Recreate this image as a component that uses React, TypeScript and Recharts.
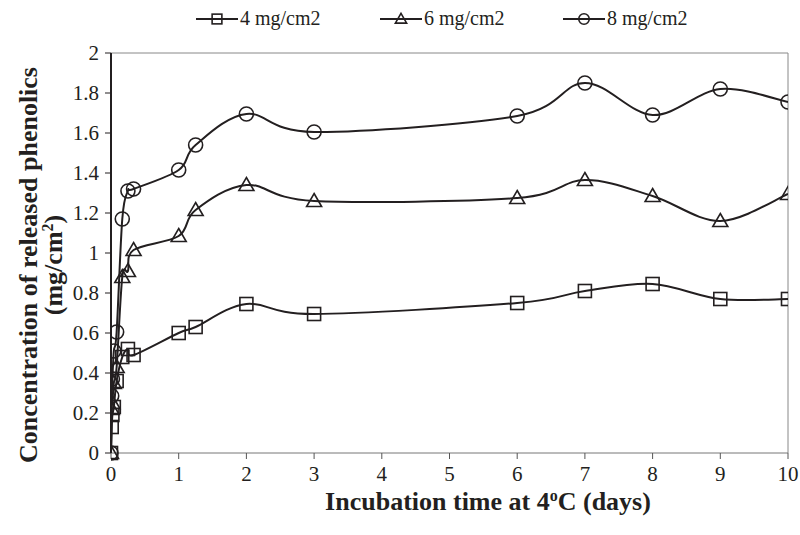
import { LineChart, Line, XAxis, YAxis, ReferenceLine } from 'recharts';

// incubation time (days) and released phenolics (mg/cm2)
const days = [0, 0.0104, 0.0208, 0.0417, 0.0833, 0.1667, 0.25, 0.3333, 1, 1.25, 2, 3, 6, 7, 8, 9, 10];
const conc4 = [0, 0.13, 0.19, 0.23, 0.36, 0.48, 0.52, 0.49, 0.6, 0.63, 0.745, 0.695, 0.75, 0.81, 0.845, 0.77, 0.77];
const conc6 = [0, 0.22, 0.25, 0.35, 0.43, 0.88, 0.91, 1.015, 1.085, 1.215, 1.34, 1.26, 1.275, 1.365, 1.285, 1.16, 1.295];
const conc8 = [0, 0.285, 0.37, 0.51, 0.605, 1.17, 1.31, 1.32, 1.415, 1.54, 1.695, 1.605, 1.685, 1.85, 1.69, 1.82, 1.755];

const xTicks = [0, 1, 2, 3, 4, 5, 6, 7, 8, 9, 10];
const yTicks = [0, 0.2, 0.4, 0.6, 0.8, 1, 1.2, 1.4, 1.6, 1.8, 2];

const seriesNames = ['4 mg/cm2', '6 mg/cm2', '8 mg/cm2'];
const seriesKeys = ['c4', 'c6', 'c8'];

const data = days.map((d, i) => ({ day: d, c4: conc4[i], c6: conc6[i], c8: conc8[i] }));

const FONT = "'Liberation Serif', 'Times New Roman', serif";
const INK = '#231f20';

// Excel-like smoothed line (uniform Catmull-Rom through the points)
function smoothCurve(context: any) {
  let pts: number[][] = [];
  return {
    areaStart() {},
    areaEnd() {},
    lineStart() { pts = []; },
    point(x: number, y: number) { pts.push([+x, +y]); },
    lineEnd() {
      if (!pts.length) return;
      context.moveTo(pts[0][0], pts[0][1]);
      for (let i = 0; i < pts.length - 1; i++) {
        const p0 = pts[i - 1] || pts[i];
        const p1 = pts[i];
        const p2 = pts[i + 1];
        const p3 = pts[i + 2] || p2;
        context.bezierCurveTo(
          p1[0] + (p2[0] - p0[0]) / 6, p1[1] + (p2[1] - p0[1]) / 6,
          p2[0] - (p3[0] - p1[0]) / 6, p2[1] - (p3[1] - p1[1]) / 6,
          p2[0], p2[1]
        );
      }
    },
  };
}

function Marker({ kind, cx, cy, s = 1 }: { kind: number; cx: number; cy: number; s?: number }) {
  if (kind === 0) return <rect x={cx - 6.5 * s} y={cy - 6.5 * s} width={13 * s} height={13 * s} fill="none" stroke={INK} strokeWidth={1.6} />;
  if (kind === 1) return <polygon points={`${cx},${cy - 7.5 * s} ${cx + 7.5 * s},${cy + 5.5 * s} ${cx - 7.5 * s},${cy + 5.5 * s}`} fill="none" stroke={INK} strokeWidth={1.6} />;
  return <circle cx={cx} cy={cy} r={7 * s} fill="none" stroke={INK} strokeWidth={1.6} />;
}

const makeDot = (kind: number) => (props: any) => {
  const { cx, cy, index } = props;
  if (cx == null || cy == null) return <g key={index} />;
  return <Marker key={index} kind={kind} cx={cx} cy={cy} />;
};

function LegendRow() {
  const lefts = [196, 380, 563];
  return (
    <>
      {seriesNames.map((name, i) => (
        <div key={name} style={{ position: 'absolute', left: lefts[i], top: 7, display: 'flex', alignItems: 'center', fontFamily: FONT, fontSize: 20, color: INK }}>
          <svg width={42} height={20}>
            <line x1={0} y1={10} x2={42} y2={10} stroke={INK} strokeWidth={2} />
            <Marker kind={i} cx={21} cy={10} s={0.75} />
          </svg>
          <span style={{ marginLeft: 2 }}>{name}</span>
        </div>
      ))}
    </>
  );
}

const YLabel = () => (
  <g>
    <text transform="translate(37, 265) rotate(-90)" textAnchor="middle" style={{ fontFamily: FONT }} fontWeight="bold" fontSize={26} fill={INK}>
      Concentration of released phenolics
    </text>
    <text transform="translate(62, 265) rotate(-90)" textAnchor="middle" style={{ fontFamily: FONT }} fontWeight="bold" fontSize={26} fill={INK}>
      (mg/cm<tspan dy={-9} fontSize={16}>2</tspan><tspan dy={9}>)</tspan>
    </text>
  </g>
);

const XLabel = () => (
  <text x={488} y={510} textAnchor="middle" style={{ fontFamily: FONT }} fontWeight="bold" fontSize={26} fill={INK}>
    Incubation time at 4<tspan dy={-9} fontSize={16}>o</tspan><tspan dy={9}>C (days)</tspan>
  </text>
);

const tickStyle = { fontFamily: FONT, fontSize: 21, fill: INK, style: { fontFamily: FONT } };

export default function App() {
  return (
    <div style={{ position: 'absolute', left: 0, top: 0, width: 800, height: 535, background: '#fff', fontFamily: FONT }}>
      <LineChart width={800} height={535} data={data} margin={{ top: 53, right: 12, bottom: 52, left: 0 }} style={{ fontFamily: FONT }}>
        <XAxis
          dataKey="day"
          type="number"
          domain={[0, 10]}
          ticks={xTicks}
          allowDataOverflow
          stroke="#777"
          tickLine={{ stroke: '#555' }}
          tickSize={6}
          tickMargin={7}
          height={30}
          tick={tickStyle}
          label={{ content: XLabel }}
        />
        <YAxis
          type="number"
          domain={[0, 2]}
          ticks={yTicks}
          width={111}
          axisLine={{ stroke: INK, strokeWidth: 2 }}
          tickLine={{ stroke: INK }}
          tickSize={6}
          tickMargin={6}
          tick={tickStyle}
          label={{ content: YLabel }}
        />
        <ReferenceLine y={2} stroke="#888" strokeWidth={1} />
        <ReferenceLine x={10} stroke="#888" strokeWidth={1} />
        {seriesKeys.map((k, i) => (
          <Line
            key={k}
            dataKey={k}
            type={smoothCurve as any}
            stroke={INK}
            strokeWidth={2}
            dot={makeDot(i)}
            activeDot={false}
            isAnimationActive={false}
          />
        ))}
      </LineChart>
      <LegendRow />
    </div>
  );
}
